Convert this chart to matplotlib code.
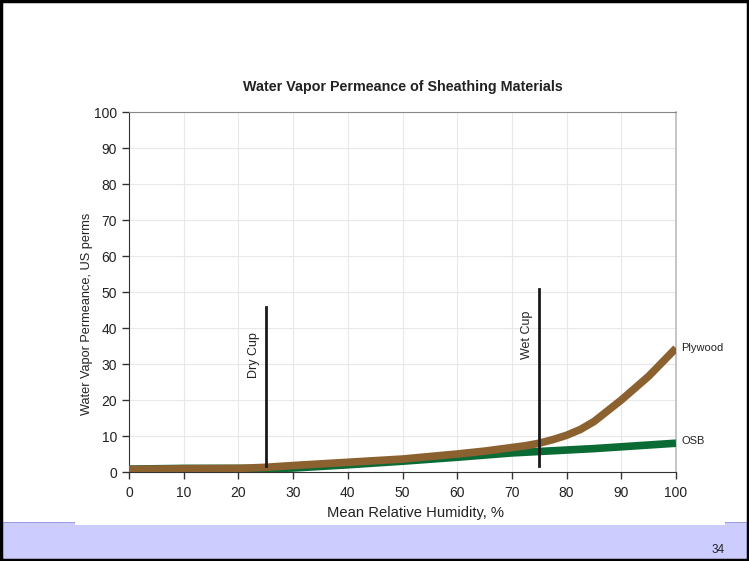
import numpy as np
import matplotlib.pyplot as plt
from matplotlib.patches import Rectangle

plt.rcParams['font.family'] = ['Liberation Sans', 'DejaVu Sans']

# data
rh = [0, 10, 20, 25, 30, 40, 50, 60, 65, 70, 72.5, 75, 77.5, 80, 82.5, 85, 90, 95, 100]
plywood = [0.7, 0.9, 1.0, 1.3, 1.8, 2.7, 3.6, 5.0, 5.8, 6.8, 7.3, 8.0, 9.0, 10.2, 11.8, 14.0, 20.0, 26.6, 34.4]
osb = [0.8, 1.0, 1.0, 0.9, 1.1, 2.0, 3.0, 4.1, 4.7, 5.3, 5.5, 5.7, 5.9, 6.1, 6.3, 6.5, 7.0, 7.5, 8.0]
dry_cup = (25, 1.7, 45.8)
wet_cup = (75, 1.7, 50.8)

fig = plt.figure(figsize=(7.49, 5.61), dpi=100)

# slide background: bottom band and border
fig.patches.append(Rectangle((0, 0), 1, 38/561, transform=fig.transFigure,
                             facecolor='#ccccff', edgecolor='none', zorder=0))
fig.patches.append(Rectangle((0, 38/561), 1, 1.5/561, transform=fig.transFigure,
                             facecolor='#9999dd', edgecolor='none', zorder=0))
fig.patches.append(Rectangle((75/749, 36/561), 650/749, 4/561, transform=fig.transFigure,
                             facecolor='white', edgecolor='none', zorder=1))
fig.patches.append(Rectangle((0.0015, 0.002), 0.997, 0.996, transform=fig.transFigure,
                             facecolor='none', edgecolor='black', linewidth=2.5, zorder=5))

ax = fig.add_axes([129/749, 1 - 472/561, 547/749, 360/561])

ax.plot(rh, osb, color='#0b6b35', linewidth=5.5, solid_capstyle='butt',
        solid_joinstyle='round', zorder=3)
ax.plot(rh, plywood, color='#8c6130', linewidth=5.5, solid_capstyle='butt',
        solid_joinstyle='round', zorder=4)

for x, y0, y1 in [dry_cup, wet_cup]:
    ax.plot([x, x], [y0, y1], color='#1a1a1a', linewidth=2, zorder=5)
ax.text(22.8, 32.5, 'Dry Cup', rotation=90, ha='center', va='center', fontsize=9, color='#222222')
ax.text(72.8, 38, 'Wet Cup', rotation=90, ha='center', va='center', fontsize=9, color='#222222')

ax.text(101, plywood[-1], 'Plywood', ha='left', va='center', fontsize=8, color='#222222')
ax.text(101, osb[-1] + 0.5, 'OSB', ha='left', va='center', fontsize=8, color='#222222')

ax.set_xlim(0, 100)
ax.set_ylim(0, 100)
ax.set_xticks(range(0, 101, 10))
ax.set_yticks(range(0, 101, 10))
ax.grid(True, color='#e8e8e8', linewidth=0.8)
ax.set_axisbelow(True)
ax.tick_params(direction='out', length=5, width=1, colors='#333333', labelsize=10, labelcolor='#222222')
ax.tick_params(axis='x', pad=5)
ax.spines['left'].set_color('#333333')
ax.spines['bottom'].set_color('#333333')
ax.spines['top'].set_color('#888888')
ax.spines['right'].set_color('#bbbbbb')
ax.spines['right'].set_linewidth(1.2)

ax.set_title('Water Vapor Permeance of Sheathing Materials', fontsize=10.3,
             fontweight='bold', color='#222222', pad=15)
ax.set_xlabel('Mean Relative Humidity, %', fontsize=10.6, color='#222222')
ax.xaxis.set_label_coords(0.524, -0.095)
ax.set_ylabel('Water Vapor Permeance, US perms', fontsize=9.2, color='#222222')
ax.yaxis.set_label_coords(-0.065, 0.44)

fig.text(718/749, 1 - 550/561, '34', ha='center', va='center', fontsize=8.5, color='#222222')

fig.savefig('out.png', dpi=100)
